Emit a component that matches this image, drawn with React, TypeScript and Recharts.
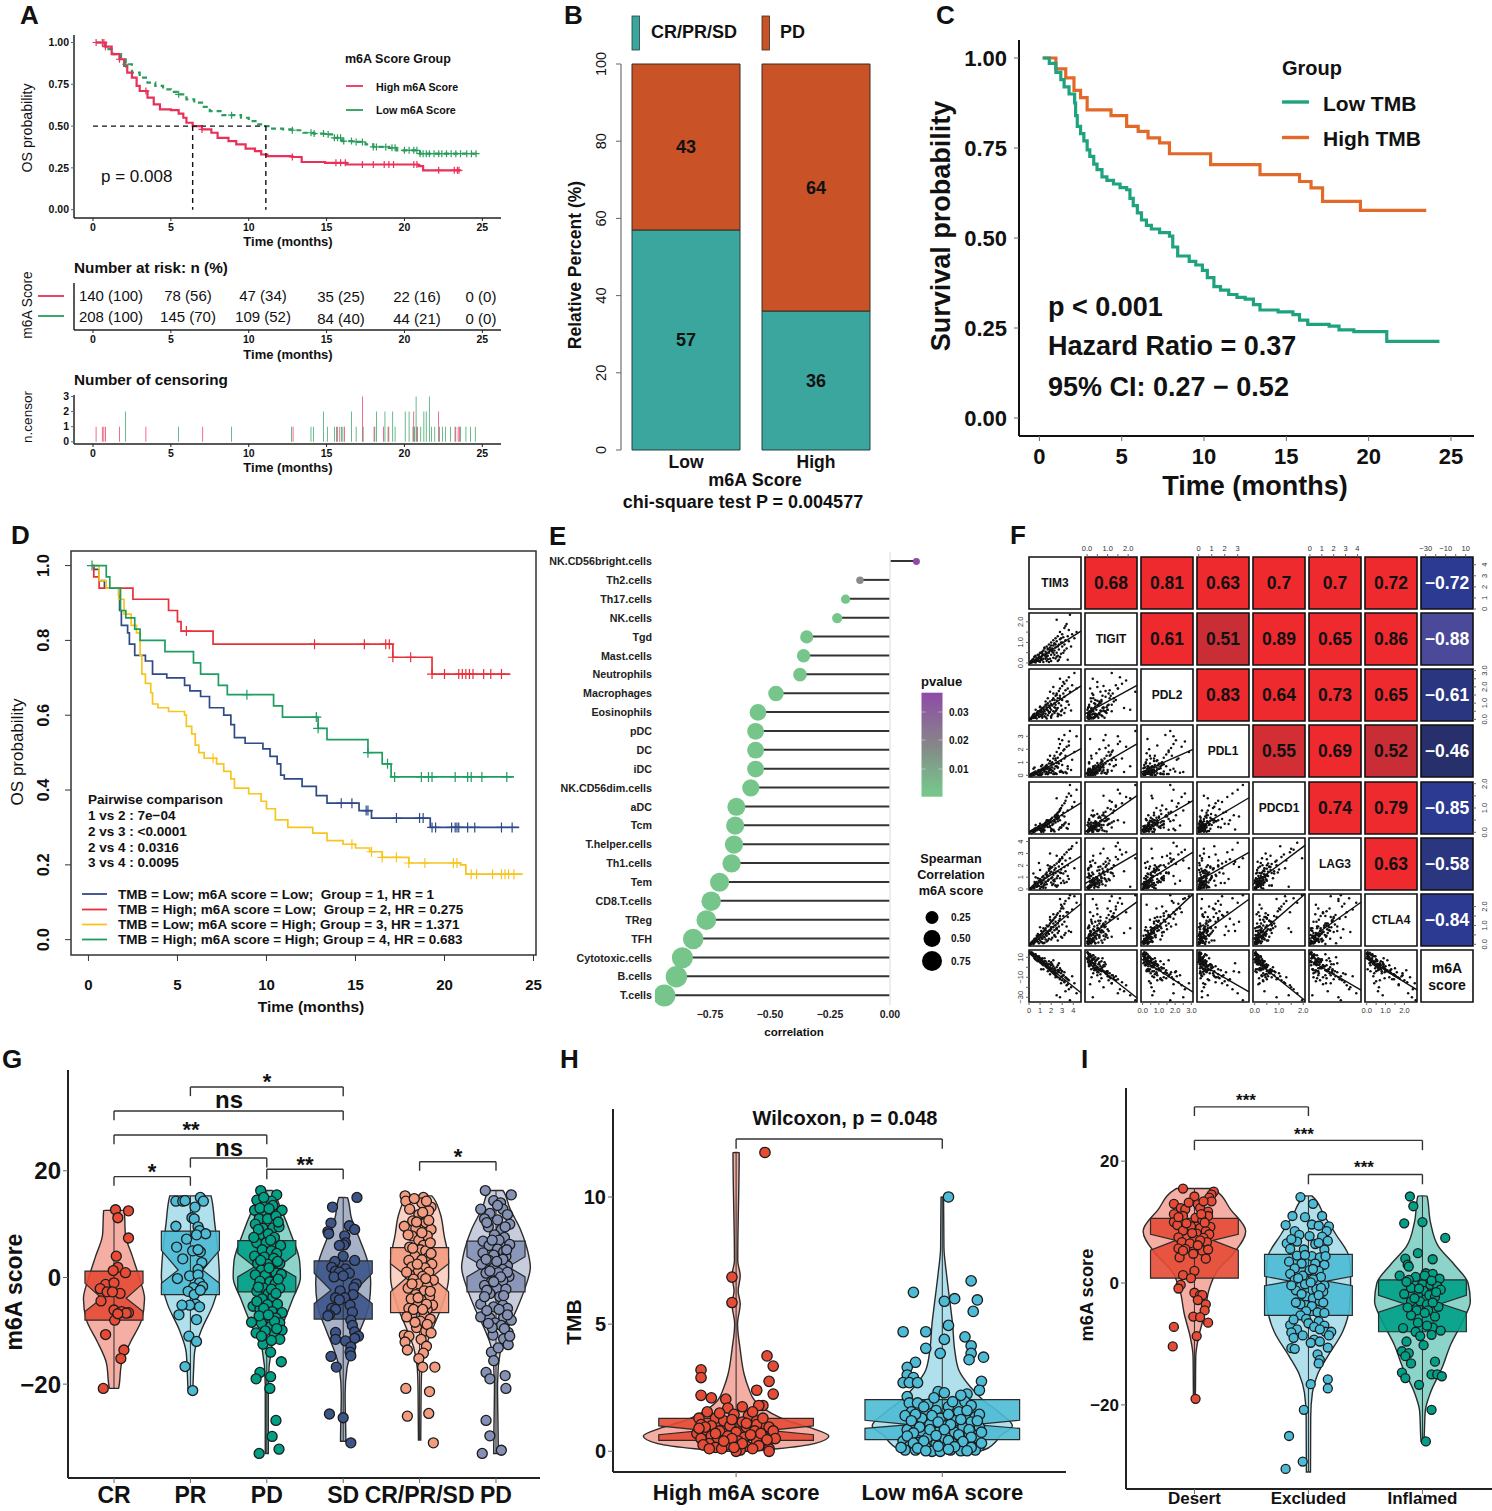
import React from "react";
import {
  Area,
  Bar,
  Cell,
  ComposedChart,
  LabelList,
  Line,
  ReferenceArea,
  ReferenceLine,
  Scatter,
  ScatterChart,
  XAxis,
  YAxis,
  ZAxis,
} from "recharts";

const FONT = "'Liberation Sans', Arial, sans-serif";
const NPG = ["#E64B35", "#4DBBD5", "#00A087", "#3C5488", "#F39B7F", "#8491B4"];

// ---- panel A ----
const aTimes = [0, 5, 10, 15, 20, 25];
const aHighCurve = [[0.2,1],[0.8,0.975],[1.2,0.93],[1.7,0.9],[2,0.86],[2.2,0.82],[2.5,0.79],[2.8,0.74],[3,0.71],[3.5,0.67],[3.9,0.63],[4.3,0.6],[5,0.595],[5.5,0.575],[5.8,0.55],[6,0.52],[6.4,0.5],[7,0.48],[7.6,0.46],[8,0.43],[8.7,0.41],[9.2,0.39],[9.8,0.365],[10.4,0.35],[10.8,0.33],[11.2,0.32],[12.8,0.315],[13.4,0.285],[14.9,0.28],[16.3,0.27],[20.9,0.26],[21.2,0.235],[23.6,0.235]];
const aLowCurve = [[0.2,1],[0.8,0.96],[1.3,0.93],[1.8,0.9],[2.1,0.87],[2.5,0.82],[3,0.79],[3.5,0.76],[4,0.74],[4.5,0.72],[5,0.705],[5.5,0.69],[6,0.66],[6.5,0.64],[7,0.615],[7.5,0.59],[8.3,0.565],[9.5,0.55],[10,0.53],[10.6,0.51],[11,0.5],[11.5,0.485],[12.2,0.48],[12.8,0.475],[13.5,0.46],[14.2,0.455],[15,0.45],[15.5,0.43],[16,0.41],[16.8,0.405],[17.5,0.39],[18,0.375],[19,0.37],[19.5,0.355],[20.5,0.355],[21,0.335],[24.6,0.335]];
const aHighCensor = [0.2,0.6,0.7,0.8,1.7,3.4,7,12.8,15.6,15.9,16.2,17.3,18,18.7,19,19.3,20.6,20.8,22.2,23.2,23.4,23.5];
const aLowCensor = [2.1,5.5,8.9,12.8,14,14.2,14.8,15.1,15.5,15.7,15.9,16.1,16.6,16.9,17.3,18,18.2,18.8,19.2,19.4,20,20.3,20.6,20.8,21,21.2,21.4,21.6,21.9,22.2,22.4,22.7,23,23.3,23.6,24,24.3,24.6];
const riskHigh = ["140 (100)", "78 (56)", "47 (34)", "35 (25)", "22 (16)", "0 (0)"];
const riskLow = ["208 (100)", "145 (70)", "109 (52)", "84 (40)", "44 (21)", "0 (0)"];
const nCensorHigh = [[0.2,1],[0.6,1],[0.7,1],[0.8,1],[1.7,1],[3.4,1],[7.05,1],[12.85,1],[15.65,1],[15.85,1],[16.15,1],[17.3,3],[18.05,1],[18.65,1],[19,1],[20.6,2],[20.8,1],[22.2,2],[23.25,1],[23.45,1],[23.55,1]];
const nCensorLow = [[2.1,2],[5.5,1],[8.9,1],[12.75,1],[14,1],[14.15,1],[14.8,2],[15.05,1],[15.5,1],[15.7,1],[15.95,1],[16.05,1],[16.6,2],[16.9,1],[17.35,1],[18.1,1],[18.2,2],[18.75,2],[18.95,1],[19.25,2],[19.4,1],[20.05,2],[20.3,2],[20.55,1],[20.65,1],[20.75,3],[20.85,1],[21.05,1],[21.25,2],[21.4,2],[21.6,3],[21.75,1],[21.95,1],[22.25,1],[22.45,1],[22.65,1],[22.95,1],[23.3,1],[23.6,1],[23.95,1],[24.25,1],[24.55,1]];

// ---- panel B ----
const bGroups = ["Low", "High"];
const bResponders = [57, 36];
const bProgressors = [43, 64];

// ---- panel C ----
const cLowCurve = [[0.2,1],[0.6,0.985],[1,0.96],[1.3,0.94],[1.5,0.92],[1.8,0.9],[2.14,0.875],[2.2,0.84],[2.3,0.81],[2.5,0.79],[2.7,0.77],[2.9,0.745],[3.06,0.727],[3.3,0.705],[3.5,0.69],[3.8,0.67],[4.1,0.66],[4.5,0.65],[4.9,0.64],[5.3,0.634],[5.5,0.61],[5.7,0.59],[5.95,0.57],[6.2,0.55],[6.5,0.535],[6.8,0.525],[7.3,0.515],[7.9,0.505],[8.1,0.475],[8.4,0.45],[9.1,0.435],[9.5,0.425],[9.9,0.41],[10.2,0.39],[10.6,0.365],[11,0.355],[11.5,0.343],[12,0.335],[12.5,0.33],[13,0.315],[13.4,0.3],[14.5,0.295],[15.4,0.287],[15.8,0.272],[16.3,0.26],[17.6,0.255],[18.2,0.245],[19.1,0.24],[21,0.24],[21.1,0.213],[24.3,0.213]];
const cHighCurve = [[0.2,1],[1,0.97],[1.6,0.945],[2.1,0.91],[2.5,0.89],[2.9,0.856],[4.35,0.84],[5.3,0.81],[6,0.796],[6.6,0.778],[7.3,0.764],[7.9,0.734],[10.4,0.704],[12.8,0.704],[13.4,0.676],[15.8,0.657],[16.5,0.639],[17.2,0.602],[19.5,0.577],[23.5,0.577]];

// ---- panel D ----
const dBlueCurve = [[0.2,1],[0.3,0.99],[0.6,0.96],[0.9,0.94],[1.7,0.92],[1.75,0.88],[1.85,0.84],[2.2,0.82],[2.3,0.79],[2.6,0.76],[3.2,0.745],[3.6,0.71],[4.4,0.7],[5.4,0.68],[5.7,0.665],[6.3,0.65],[6.8,0.62],[7.6,0.6],[8,0.575],[8.2,0.54],[8.8,0.525],[9.8,0.51],[10.2,0.49],[10.6,0.47],[10.8,0.44],[11,0.43],[12,0.41],[12.8,0.385],[13.4,0.365],[15.2,0.345],[15.9,0.325],[19.2,0.3],[24.2,0.3]];
const dRedCurve = [[0.2,1],[0.3,0.97],[0.6,0.94],[2.5,0.91],[4.5,0.88],[5,0.85],[5.2,0.825],[7,0.79],[17.1,0.755],[19.3,0.71],[23.7,0.71]];
const dYellowCurve = [[0.2,1],[0.6,0.96],[1,0.94],[1.7,0.91],[2,0.87],[2.4,0.84],[2.7,0.82],[2.9,0.76],[3,0.71],[3.2,0.685],[3.5,0.66],[3.6,0.63],[3.9,0.62],[4.5,0.61],[5.4,0.6],[5.5,0.57],[5.8,0.55],[6,0.52],[6.2,0.5],[6.5,0.485],[7.2,0.47],[7.6,0.45],[8,0.43],[8.2,0.405],[9,0.39],[9.7,0.37],[10,0.35],[10.5,0.32],[11.2,0.3],[12.6,0.285],[13.4,0.265],[14.3,0.255],[15,0.245],[15.8,0.235],[16.5,0.22],[18,0.205],[20.9,0.2],[21.2,0.175],[24.4,0.175]];
const dGreenCurve = [[0.2,1],[1,0.97],[1.2,0.94],[1.8,0.88],[2.1,0.86],[2.6,0.83],[2.9,0.8],[4.3,0.77],[5.9,0.74],[6.3,0.71],[7.3,0.68],[7.8,0.655],[10.4,0.625],[10.9,0.595],[12.9,0.565],[13.4,0.535],[15.7,0.5],[16.5,0.47],[17,0.435],[23.9,0.435]];
const dBlueCensor = [14.2,14.8,15.6,15.7,17.3,18.6,18.8,19.3,19.5,20.4,20.6,20.7,20.8,21.3,21.7,23.2,23.8];
const dRedCensor = [5.5,12.7,15.5,16.7,16.9,17.1,18.1,19.3,20,20.8,21,21.2,21.4,21.6,22.2,22.6,23.2];
const dYellowCensor = [7,14.8,15.9,16.5,17.3,18,18.9,20.5,20.7,21.5,21.8,22.7,23.2,23.4,23.6,23.9];
const dGreenCensor = [0.2,8.9,12.8,12.9,15.7,16.8,17.2,18.7,19.1,19.3,20.6,21.3,21.5,22.1,23.5];

// ---- panel E ----
const eCells = ["NK.CD56bright.cells","Th2.cells","Th17.cells","NK.cells","Tgd","Mast.cells","Neutrophils","Macrophages","Eosinophils","pDC","DC","iDC","NK.CD56dim.cells","aDC","Tcm","T.helper.cells","Th1.cells","Tem","CD8.T.cells","TReg","TFH","Cytotoxic.cells","B.cells","T.cells"];
const eCorr = [0.11,-0.125,-0.185,-0.22,-0.347,-0.36,-0.375,-0.475,-0.55,-0.56,-0.56,-0.56,-0.58,-0.64,-0.645,-0.65,-0.66,-0.71,-0.745,-0.765,-0.82,-0.865,-0.89,-0.94];
const ePvalue = [0.037,0.02,0.002,0.002,0.001,0.001,0.001,0.001,0.001,0.001,0.001,0.001,0.001,0.001,0.001,0.001,0.001,0.001,0.001,0.001,0.001,0.001,0.001,0.001];

// ---- panel F ----
const fNames = ["TIM3", "TIGIT", "PDL2", "PDL1", "PDCD1", "LAG3", "CTLA4", "m6A score"];
const fDomains = [[0,4.7],[-0.1,2.43],[-0.1,3.1],[-0.13,3.87],[-0.07,2.07],[-0.08,4.3],[-0.09,2.67],[-34.7,17.3]];
const fTicks = [[0,1,2,3,4],[0,0.5,1,1.5,2],[0,0.5,1,1.5,2,2.5,3],[0,1,2,3],[0,0.5,1,1.5,2],[0,1,2,3,4],[0,0.5,1,1.5,2],[-30,-20,-10,0,10]];
const fLabels = [["0","1","2","3","4"],["0.0","","1.0","","2.0"],["0.0","","1.0","","2.0","","3.0"],["0","1","2","3"],["0.0","","1.0","","2.0"],["0","1","2","3","4"],["0.0","","1.0","","2.0"],["−30","","−10","","10"]];
const tim3 = [0.1,0.2,0.2,0.3,0.3,0.4,0.4,0.5,0.5,0.5,0.6,0.6,0.7,0.7,0.8,0.8,0.9,0.9,1,1,1.1,1.1,1.2,1.2,1.3,1.3,1.4,1.4,1.5,1.5,1.6,1.6,1.7,1.7,1.8,1.8,1.9,1.9,2,2,2.1,2.1,2.2,2.2,2.3,2.3,2.4,2.4,2.5,2.5,2.6,2.6,2.7,2.7,2.8,2.8,2.9,3,3,3.1,3.2,3.2,3.3,3.4,3.5,3.6,3.7,3.9,4.1,4.3,0.6,1.1,1.5,2,2.4,2.8,3.2,0.9,1.3,1.7,2.2,2.6,3,3.5,0.5,1,1.4,1.9,2.3,2.7,3.1,3.8,0.8,1.2,1.6,2.1,2.5,2.9,3.3,0.4,0.7,1.1,1.5,1.8,2.2,2.6,3.4,1.3,1.7,2,2.4,2.9,1,1.6,2.3,2.8,3.6,1.2,1.9,2.5];
const tigit = [0.05,0.02,0.1,0.15,0.03,0.2,0.08,0.12,0.3,0.05,0.15,0.35,0.1,0.25,0.18,0.4,0.3,0.08,0.22,0.5,0.3,0.15,0.45,0.35,0.6,0.2,0.4,0.7,0.3,0.55,0.45,0.8,0.35,0.65,0.5,0.9,0.6,0.75,0.4,1,0.7,0.55,0.85,1.1,0.6,0.95,0.75,1.2,0.5,1.05,0.8,1.3,0.9,0.65,1.15,1.5,1,0.8,1.4,1.25,1.7,0.9,1.1,1.9,1.3,1.6,2.35,1.4,1.2,1.5,0.02,0.5,0.2,0.1,0.9,0.3,0.6,0.4,0.05,0.7,0.25,0.35,1,0.15,0.3,0.1,0.75,0.2,0.4,0.15,0.5,0.8,0.12,0.55,0.1,0.6,0.3,0.45,1.8,0.08,0.2,0.25,0.35,0.05,0.5,0.1,0.7,0.4,0.18,0.85,0.22,1.2,0.06,0.3,0.95,0.28,1.05,0.16,0.65,2.1];
const pdl2 = [0.05,0.1,0.02,0.15,0.2,0.08,0.25,0.3,0.12,0.35,0.2,0.1,0.4,0.3,0.45,0.25,0.5,0.35,0.55,0.2,0.6,0.45,0.3,0.7,0.4,0.65,0.8,0.5,0.35,0.9,0.6,0.75,1,0.55,0.85,0.45,1.1,0.7,0.95,0.6,1.2,0.85,0.5,1.3,1,0.75,1.45,0.9,1.15,1.6,0.7,1.3,1.75,1,1.45,1.9,0.85,2.05,1.2,1.6,2.2,1.4,1.8,2.4,1.1,2.6,1.7,2.1,2.85,1.9,0.6,0.3,1.1,0.2,0.5,1.3,0.4,0.15,0.7,0.25,1.6,0.35,0.6,1.9,0.1,0.8,0.2,0.45,1.2,0.3,2.3,0.55,0.5,0.1,0.9,0.3,1.5,0.25,0.7,0.3,0.05,0.6,0.15,0.4,2,0.2,1.1,0.35,1.3,0.1,0.7,0.5,0.75,0.05,0.4,2.5,0.9,0.2,1.7,0.6];
const pdl1 = [0.02,0.05,0.1,0.03,0.15,0.08,0.2,0.12,0.05,0.25,0.15,0.3,0.1,0.2,0.35,0.25,0.05,0.4,0.3,0.15,0.45,0.35,0.5,0.2,0.55,0.4,0.3,0.6,0.7,0.45,0.25,0.8,0.5,0.65,0.35,0.9,0.55,1.1,0.75,0.4,1,0.6,1.3,0.85,0.5,1.5,0.7,1.15,0.95,1.8,0.6,1.35,2.1,0.9,1.6,2.4,1.1,2.7,0.8,1.9,1.3,3.1,1.5,2.2,0.7,2.6,3.4,1.2,1.8,3,0.2,0.7,0.1,0.9,0.15,0.3,2,0.05,0.4,1.2,0.1,0.6,0.25,0.5,0.6,0.02,0.3,1.5,0.1,2.8,0.2,0.4,0.05,0.8,0.15,0.35,0.1,1.7,0.25,0.5,0.1,0.03,0.6,0.2,0.3,1,0.15,0.45,0.08,0.2,1.3,0.35,0.03,0.55,0.12,0.25,2.3,0.1,0.4,0.7];
const pdcd1 = [0.02,0.04,0.05,0.08,0.03,0.1,0.07,0.12,0.15,0.05,0.1,0.18,0.14,0.08,0.2,0.22,0.12,0.25,0.18,0.1,0.28,0.2,0.3,0.15,0.32,0.25,0.35,0.2,0.38,0.28,0.42,0.3,0.22,0.45,0.35,0.48,0.26,0.5,0.4,0.55,0.3,0.6,0.45,0.35,0.65,0.5,0.7,0.4,0.75,0.55,0.8,0.45,0.85,0.6,0.95,0.5,1,0.7,1.1,0.8,1.2,0.65,1.3,1.45,0.9,1.6,1.95,1.05,1.25,1.75,0.3,0.05,0.4,0.15,0.6,0.2,0.35,0.25,0.02,0.5,0.1,0.7,0.3,0.15,0.02,0.35,0.08,0.22,0.45,0.12,0.28,1.5,0.18,0.05,0.5,0.1,0.65,0.2,0.4,0.06,0.15,0.02,0.27,0.4,0.08,0.55,0.18,0.12,0.32,0.05,0.7,0.2,0.1,0.25,0.03,0.9,0.34,0.16,0.45,1.4];
const lag3 = [0.05,0.1,0.02,0.2,0.15,0.3,0.08,0.25,0.4,0.12,0.35,0.5,0.2,0.6,0.3,0.45,0.7,0.25,0.55,0.85,0.4,0.65,1,0.5,0.75,1.1,0.35,0.9,1.25,0.6,1,1.4,0.7,1.15,1.55,0.8,1.3,1.7,0.55,1.45,1,1.85,1.2,0.75,1.6,2,1.35,1.75,0.9,2.15,1.5,1.1,2.3,1.9,1.4,2.5,1.65,2.1,2.7,1.3,2.9,1.85,2.4,3.1,2,3.3,2.6,3.6,1.75,3.9,1,0.2,0.6,1.8,0.3,0.9,0.5,2.2,0.1,0.7,1.4,0.3,2.6,1.1,0.6,0.05,0.4,1.9,0.8,2.3,0.7,3.4,0.9,0.15,1.2,0.35,2.8,0.5,1.5,1.3,0.2,0.75,0.1,1.7,0.45,1.1,0.6,0.25,2,0.9,0.3,1.35,1.6,0.4,0.65,2.4,0.85,0.55,3,0.2];
const ctla4 = [0.02,0.05,0.1,0.08,0.15,0.04,0.2,0.12,0.25,0.1,0.3,0.18,0.35,0.22,0.14,0.4,0.28,0.45,0.2,0.5,0.35,0.55,0.3,0.6,0.42,0.68,0.38,0.75,0.5,0.85,0.58,0.45,0.95,0.65,1,0.55,1.1,0.72,1.2,0.8,0.62,1.25,0.9,1.3,0.75,1.4,1,1.45,0.85,1.55,1.1,1.65,0.95,1.25,1.75,1.35,1.9,1.05,2,1.5,2.15,1.2,2.3,1.7,1.45,2.45,2.6,1.85,2.55,2.2,0.15,0.7,0.25,0.9,0.4,1.5,0.5,0.05,0.85,0.2,1.1,0.6,0.35,1.7,0.3,0.5,0.08,1.3,0.45,0.7,1.9,0.65,0.55,0.1,1,0.35,0.8,2.1,0.6,0.02,0.45,0.12,0.75,0.3,1.6,0.2,0.95,0.05,0.65,0.25,1.2,0.4,0.9,0.15,0.5,2.4,0.7,0.3,1.45,0.85];
const m6aScore = [14,15,13,12,14.5,11,13.5,10,12,9,13,8,11,7,10,6,9,11,5,8,4,6,7,3,5,2,4,6,1,3,0,2,-1,1,-2,3,-3,0,2,-4,-1,-5,1,-6,-2,-7,-3,-8,0,-9,-4,-10,-5,-3,-11,-12,-6,-4,-13,-8,-15,-5,-10,-18,-12,-22,-33,-9,-16,-26,8,-2,6,3,-6,-1,-14,10,5,-4,7,-3,-9,-17,12,6,9,-2,-1,4,-8,-20,7,9,1,3,-6,-3,-24,13,11,8,2,6,-5,2,-11,-2,3,5,-10,-16,9,4,-4,-30,-13,6,-7,-28];
const fSamples = [tim3, tigit, pdl2, pdl1, pdcd1, lag3, ctla4, m6aScore];
const fCorr = [
  [0.68,0.81,0.63,0.7,0.7,0.72,-0.72],
  [0.61,0.51,0.89,0.65,0.86,-0.88],
  [0.83,0.64,0.73,0.65,-0.61],
  [0.55,0.69,0.52,-0.46],
  [0.74,0.79,-0.85],
  [0.63,-0.58],
  [-0.84],
];

// ---- panel G: violin outline (score, half width), box and jittered points ----
const gLabels = ["CR", "PR", "PD", "SD", "CR/PR/SD", "PD"];
const gCrY = [12.6,8,4,0,-4,-8,-12,-16,-20.8];
const gCrW = [0.135,0.15,0.24,0.33,0.4,0.36,0.22,0.1,0.06];
const gPrY = [15.3,10,5,0,-5,-10,-14,-18,-21];
const gPrW = [0.27,0.32,0.36,0.38,0.3,0.14,0.055,0.04,0.03];
const gPdY = [16.3,13,8,3,0,-4,-9,-13,-20,-33];
const gPdW = [0.07,0.18,0.32,0.43,0.44,0.34,0.2,0.065,0.02,0.02];
const gSdY = [15,11,7,3,-1,-5,-10,-14,-17,-22,-30.7];
const gSdW = [0.055,0.11,0.22,0.32,0.36,0.34,0.22,0.11,0.05,0.025,0.035];
const gMixY = [15.3,12,8,3,0,-5,-10,-13,-17,-21,-30.5];
const gMixW = [0.16,0.27,0.32,0.38,0.38,0.3,0.16,0.08,0.03,0.02,0.015];
const gPd2Y = [16.3,13,9,4,2,-2,-6,-10,-13,-20,-33];
const gPd2W = [0.09,0.18,0.32,0.43,0.45,0.38,0.27,0.14,0.065,0.02,0.03];
const gCrBox = [1.2,-1.1,-3.9,-6.4,-8];
const gPrBox = [8.7,5.1,1.4,-1.1,-3.2];
const gPdBox = [6.9,4.5,2,0.1,-2.7];
const gSdBox = [3.1,0.8,-2.4,-4.9,-7.8];
const gMixBox = [5.6,2.6,0.1,-2.7,-6.6];
const gPd2Box = [6.8,3.9,2,0.1,-2.7];
const gCrPts = [[0.02,12.7],[0.19,12.5],[0.05,11.2],[0.19,7.4],[0.03,4],[0.05,1.9],[-0.01,1.3],[0.15,0.9],[-0.11,-1.3],[0,-1],[-0.18,-2.1],[0.08,-3],[-0.17,-4.4],[0,-6.1],[0.19,-6.6],[0.1,-6.4],[0.01,-8],[-0.11,-10.7],[0.13,-13.6],[0.09,-15.2],[-0.14,-20.8],[-0.09,-2.7],[-0.02,-2.7],[0.16,-6.7],[0.05,-6.8]];
const gPrPts = [[-0.19,14.3],[-0.1,14.3],[-0.07,14.4],[0.13,15],[0.17,14.3],[0.06,13.2],[0.02,11.2],[0.05,11],[-0.19,9.6],[0.1,9.5],[0.12,8.8],[0.2,8.2],[-0.05,7.2],[0.08,8],[-0.18,5.7],[0.03,5],[0.13,4.8],[0.1,5.2],[-0.1,3.5],[0.15,2.8],[0.1,1.5],[-0.01,0.3],[-0.17,-0.2],[0.1,0.5],[0.12,-1],[0.04,-1.9],[-0.03,-2.6],[0.05,-3.2],[0.07,-5],[-0.01,-5.2],[-0.11,-5.2],[0.12,-5.5],[-0.15,-7],[0.08,-7.9],[-0.02,-11],[0.08,-12],[-0.07,-16.7],[0.03,-21.2],[0.16,-1.7],[0.13,-2.4]];
const gPdPts = [[-0.08,16.3],[0.13,15.5],[-0.13,14.5],[-0.02,14],[0.06,14.3],[-0.16,12.6],[-0.03,12.3],[0.1,12.7],[0.2,12.6],[-0.1,11],[0.01,11],[0.12,11.5],[-0.15,10],[-0.05,9.2],[0.08,9.3],[0.16,9.5],[-0.09,8],[0.02,8.2],[0.1,7.5],[-0.13,6.5],[-0.01,6.5],[0.18,6],[-0.06,5.2],[0.06,5],[0.13,4.5],[-0.16,4],[-0.03,3.8],[0.09,3.6],[-0.12,2.6],[0.01,2.5],[0.17,2.6],[-0.07,1.4],[0.06,1.2],[0.12,0.8],[-0.15,0.5],[-0.02,0.4],[0.19,0.6],[-0.09,-0.7],[0.04,-0.8],[0.11,-1.2],[-0.04,-2],[0.17,-2],[-0.13,-2.6],[0.02,-3],[0.08,-3.6],[-0.06,-4],[-0.18,-5.4],[0.01,-5.1],[0.14,-5],[-0.09,-6],[0.07,-6.4],[0.2,-6.6],[-0.03,-7.4],[0.12,-7.6],[-0.2,-8.4],[-0.07,-8.6],[0.17,-8.5],[0.05,-9.2],[-0.14,-10.4],[0.2,-9.9],[0.1,-10.6],[-0.05,-12.5],[0.17,-11.6],[0.05,-14],[0.19,-15.8],[-0.09,-17.8],[0.05,-18.6],[-0.14,-19],[0.04,-20.8],[0.12,-26.8],[0.07,-29.8],[-0.1,-33],[0.16,-32.2],[-0.04,15],[0.08,13.5],[-0.09,13],[0.03,12.9],[0.15,10.4],[-0.11,9],[0.05,7],[-0.17,7.5],[0.14,3],[-0.08,3.2],[0.03,1.8],[0.15,-0.3],[-0.11,-1.8],[0.06,-2.2],[0.12,-3],[-0.13,-4.5],[-0.04,-5.8],[0.1,-8.2],[-0.1,-7.2],[0.02,-7],[-0.02,-10],[0.13,-9.6],[-0.07,-11],[0.06,-11.8]];
const gSdPts = [[0.18,15],[-0.14,13.2],[-0.16,10.2],[-0.2,8.6],[-0.19,8.2],[0.08,9.7],[0.15,9],[0.02,7.8],[0.03,6.5],[0.01,6.1],[-0.05,6],[0,4],[0.15,3.2],[-0.11,3],[-0.15,1.9],[-0.1,1.2],[0.03,1.6],[0.08,0.8],[-0.05,1],[-0.12,0.1],[0,0.3],[0.17,-1.2],[0.14,-1.9],[-0.04,-2.5],[0.13,-3.2],[-0.1,-3.8],[0.02,-3.8],[-0.05,-4.2],[0.09,-5.2],[-0.15,-5.8],[-0.1,-6],[0.12,-6.5],[-0.18,-7],[-0.2,-7.2],[0.1,-8],[0.12,-9],[0.15,-10.2],[-0.1,-10.3],[0.2,-11],[0.15,-11.4],[-0.1,-11.6],[0.03,-11.9],[0.1,-13],[0.09,-14],[-0.16,-14.8],[0.1,-14.7],[-0.09,-16.8],[-0.18,-25.6],[0,-26.3],[0.1,-31]];
const gMixPts = [[-0.19,15.3],[0.05,15],[-0.18,14.3],[0.03,14],[0.15,13.2],[0.12,12.5],[-0.01,11.8],[-0.09,10.6],[0.08,10.3],[-0.2,9.6],[-0.05,9.2],[0.15,9],[-0.1,7.8],[0.1,7.8],[-0.01,7],[0.05,6],[-0.13,5.7],[0.01,5.2],[0.08,5],[-0.06,4],[0.1,3.6],[-0.14,3.2],[0.03,3.3],[0.16,2.5],[-0.1,2],[0.07,1.8],[-0.02,1],[0.12,1],[-0.13,0.5],[0.04,0.2],[-0.08,-0.3],[0.18,-0.5],[-0.01,-1.2],[0.1,-1.6],[-0.15,-2],[0.06,-2.5],[-0.05,-3.2],[0.13,-3.6],[-0.11,-4],[0.02,-4.2],[0.17,-5.2],[-0.02,-5.2],[-0.14,-5.8],[0.1,-6],[0.06,-7],[-0.1,-7],[0.14,-7.8],[0.01,-8.2],[-0.04,-9.4],[0.08,-10],[-0.2,-10.8],[-0.14,-11],[0.02,-11.6],[-0.19,-12.1],[0.09,-12.9],[-0.16,-13.6],[0.05,-14.2],[-0.01,-15.2],[0.2,-16.8],[0.04,-16.8],[-0.18,-20.8],[0.13,-21.4],[0.12,-25.5],[-0.16,-26],[0.18,-31],[-0.07,14.8],[0.09,14.3],[-0.13,12.8],[0.04,12.2],[-0.04,10.4],[0.12,10.7],[0.03,8.4],[-0.15,8],[0.14,6.5],[-0.09,5.5],[0.15,4.5],[-0.03,2.5],[-0.17,1],[0.08,-0.2],[-0.1,-1.2],[0.14,-2.6],[-0.02,-3.8],[0.09,-5],[-0.08,-6],[-0.17,-7.4],[0.04,-6],[-0.06,-8.4],[0.1,-8.8],[0.15,-10.4]];
const gPd2Pts = [[-0.14,16.3],[0.2,15.5],[-0.03,14.4],[0.06,14],[-0.2,12.8],[0.09,12.8],[-0.08,12],[0.15,11.8],[-0.15,11],[0.02,10.8],[0.18,10],[-0.1,9.5],[0.07,9],[-0.02,8],[0.11,7.5],[-0.17,6.8],[0.04,7],[0.18,6.2],[-0.09,6],[0.02,5.3],[0.1,4.8],[-0.17,4.6],[-0.03,4.2],[0.13,4],[-0.09,3.2],[0.05,2.8],[-0.19,2.5],[0.15,2.2],[-0.03,1.8],[0.09,1.5],[-0.13,0.8],[0.03,0.9],[0.17,0.2],[-0.06,-0.8],[0.09,-0.6],[-0.15,-1.5],[0.01,-2],[0.13,-2.2],[-0.08,-3],[0.05,-3.6],[-0.2,-5],[0.09,-5.2],[-0.03,-5.5],[0.15,-5.8],[-0.2,-7.4],[-0.08,-7.6],[0.1,-7.5],[0.2,-8],[-0.01,-8.5],[0.07,-9],[0.16,-10.3],[-0.04,-10.8],[0.1,-11.5],[-0.06,-14],[0.16,-12.6],[-0.03,-15.6],[-0.13,-17.8],[0.12,-18.4],[-0.08,-19],[0.13,-20.8],[-0.13,-26.8],[-0.08,-29.7],[-0.18,-33],[0.07,-32.4],[0.03,-13.2],[0.02,13.5],[-0.12,10.3],[0.12,9.5],[-0.05,7],[0.14,5.2],[-0.13,3.4],[0.09,3.4],[0.01,3],[-0.08,1.2],[0.15,1],[0.06,0.1],[-0.03,-0.8],[-0.12,-2.4],[0.1,-3.4],[-0.15,-3.6],[0.15,-7],[0.04,-6],[-0.12,-6.2],[-0.05,-9.4],[0.11,-9.6],[0.18,-11],[-0.1,-8.6]];
const gBrackets = [[1,2,18.9,17.2],[2,3,22.4,20.6],[3,4,20.3,18.4],[1,3,26.7,25],[1,4,31.2,29.5],[2,4,35.7,34],[5,6,21.7,20]];

// ---- panel H ----
const hLabels = ["High m6A score", "Low m6A score"];
const hHighY = [11.75,7.5,6.9,6.3,5.8,5,4,3,2.5,2,1.5,1.2,0.9,0.6,0.3,0.1,0];
const hHighW = [0.015,0.008,0.02,0.01,0.02,0.007,0.02,0.04,0.06,0.09,0.17,0.25,0.37,0.45,0.38,0.2,0.05];
const hLowY = [10,8,7,6,5,4,3.2,2.5,2,1.5,1,0.6,0.3,0.05];
const hLowW = [0.006,0.008,0.02,0.035,0.05,0.06,0.08,0.14,0.2,0.28,0.34,0.28,0.25,0.2];
const hHighBox = [1.29,1,0.82,0.65,0.43];
const hLowBox = [2.03,1.22,1.05,0.9,0.46];
const hHighPts = [[0.14,11.75],[-0.02,6.85],[-0.02,5.85],[0.15,3.75],[0.18,3.35],[-0.17,3.2],[-0.17,2.9],[0.16,2.75],[0.1,2.4],[-0.17,2.2],[-0.12,2.1],[0.18,2.25],[-0.05,2.05],[0.13,1.8],[0.11,1.8],[-0.04,1.7],[0.03,1.75],[0.06,1.4],[-0.01,1.45],[-0.1,1.3],[-0.18,1.3],[0.1,1.2],[0.1,1.05],[-0.06,1.2],[0.03,1.15],[-0.17,1.05],[-0.12,1],[-0.03,1],[0.05,0.95],[0.16,0.95],[-0.15,0.85],[-0.08,0.8],[0,0.75],[0.09,0.8],[0.18,0.8],[-0.19,0.7],[-0.12,0.6],[-0.04,0.6],[0.04,0.55],[0.13,0.6],[-0.17,0.5],[-0.09,0.45],[0.01,0.4],[0.1,0.4],[0.19,0.5],[-0.13,0.3],[-0.05,0.25],[0.05,0.2],[0.15,0.25],[-0.1,0.15],[0.02,0.05],[0.16,0.1],[0,0],[0.16,0],[-0.07,0.1],[-0.14,1.55],[0.08,1.55],[-0.08,1.5],[0.13,1.3],[-0.02,1.25],[0.05,1.1],[-0.15,0.95],[0.12,0.7],[-0.1,0.7],[-0.02,0.5],[0.07,0.65],[0.15,0.45],[-0.06,0.4],[0.03,0.3],[0.11,0.22],[-0.16,0.25],[-0.01,0.15],[0.08,0.1],[-0.13,0.1],[-0.18,0.9]];
const hLowPts = [[0.03,10],[0.14,6.7],[-0.14,6.25],[0.17,5.95],[0.06,6],[0.01,5.9],[0.15,5.5],[-0.19,4.7],[-0.08,4.7],[0.03,4.95],[0.11,4.5],[0.14,4.15],[0.01,4.4],[-0.08,4.05],[0.14,3.85],[-0.01,3.85],[0.2,3.7],[0.13,3.6],[-0.13,3.5],[-0.17,3.3],[-0.17,3],[-0.14,2.9],[-0.19,2.7],[-0.16,2.7],[-0.12,2.7],[0.19,2.75],[0.18,2.4],[-0.02,2.35],[0.01,2.3],[0.12,2.25],[-0.17,2.15],[-0.16,1.9],[0.11,1.95],[0.14,1.8],[-0.07,1.85],[0.03,1.75],[-0.03,1.6],[0.08,1.55],[-0.15,1.55],[-0.18,1.4],[0.16,1.35],[-0.1,1.3],[-0.01,1.3],[0.06,1.2],[0.14,1.15],[-0.14,1.05],[-0.06,1.05],[0.02,1],[0.1,0.95],[0.18,0.95],[-0.17,0.85],[-0.1,0.8],[-0.02,0.75],[0.06,0.75],[0.13,0.7],[-0.15,0.6],[-0.07,0.55],[0,0.5],[0.08,0.5],[0.17,0.5],[-0.19,0.4],[-0.11,0.35],[-0.03,0.3],[0.05,0.3],[0.13,0.3],[-0.16,0.2],[-0.08,0.15],[0.01,0.15],[0.09,0.15],[0.18,0.2],[-0.18,0.05],[-0.05,0],[0.09,0.02],[0.16,0.05],[-0.13,0.05],[-0.01,0],[0.04,0.05],[-0.12,1.9],[0.05,1.95],[-0.04,2.1],[0.09,2.2],[-0.09,1.75],[0.12,1.6],[-0.13,1.45],[0.03,1.45],[0.18,1.45],[-0.05,1.4],[0.09,1.25],[-0.15,1.2],[0.17,1.2],[-0.02,1.15],[0.04,1.05],[-0.11,0.95],[0.13,0.85],[-0.06,0.85],[0.01,0.85],[0.19,0.75],[-0.14,0.72],[0.08,0.65],[-0.03,0.62],[-0.17,0.6],[0.14,0.55],[0.03,0.42],[-0.09,0.4],[0.1,0.38],[-0.14,0.32],[0.19,0.32],[-0.02,0.2],[0.06,0.18],[0.14,0.15],[-0.12,0.12],[0.03,0.08],[-0.2,0.15],[0.12,0.02],[-0.08,0.02]];
const hBrackets = [[1,2,12.28,11.9]];

// ---- panel I ----
const iLabels = ["Desert", "Excluded", "Inflamed"];
const iDesertY = [15.5,12,8.5,5,2,-1,-5,-9,-12,-19];
const iDesertW = [0.16,0.32,0.45,0.35,0.2,0.13,0.09,0.035,0.012,0.008];
const iExclY = [14.3,11,8,4,0,-4,-8,-12,-15,-18,-22,-31];
const iExclW = [0.03,0.14,0.24,0.36,0.37,0.36,0.3,0.17,0.08,0.035,0.02,0.018];
const iInflY = [14.3,10,6,3,0,-3,-6,-10,-14,-18,-21,-26];
const iInflW = [0.04,0.07,0.14,0.28,0.4,0.42,0.36,0.25,0.17,0.07,0.025,0.012];
const iDesertBox = [10.6,8,7,5.4,0.8];
const iExclBox = [4.7,1.1,0.3,-0.45,-5.3];
const iInflBox = [0.5,-2,-3.4,-4.8,-8];
const iDesertPts = [[-0.1,15.5],[0.17,15],[0.15,14.5],[0.13,14],[0,14.2],[-0.18,13],[0.15,13.4],[0.03,12.9],[-0.12,12.3],[-0.08,12.1],[0.05,12.3],[0.12,11.7],[-0.18,11.3],[-0.1,11],[0.12,11],[0.01,10.7],[-0.18,10],[0.07,10.3],[-0.15,9.5],[-0.03,9.3],[0.05,9],[0.14,9.2],[-0.1,8.6],[0.1,8.5],[0.02,8.1],[0.13,8],[-0.14,7.5],[0,7.2],[0.08,7.4],[-0.11,6.7],[-0.04,6.5],[0.11,6.7],[-0.14,5.7],[-0.08,5.6],[0.07,5.3],[0.12,5.5],[-0.13,4.2],[0.1,4],[0,2],[-0.1,1.3],[-0.03,0.8],[-0.12,-0.3],[-0.14,-0.9],[0,-1.6],[0.05,-2],[0.07,-2],[0.03,-2.8],[0.1,-3.5],[0.09,-4.5],[-0.01,-5.5],[0.05,-5.6],[0.12,-6.5],[-0.18,-7.2],[0.02,-8.7],[-0.19,-10.4],[0.01,-19],[-0.05,13.2],[0.08,13.4],[-0.14,10.8],[0.06,11.3],[-0.07,9.8],[0.09,9.9],[-0.02,8.2],[0.05,7],[-0.1,5.3],[0.03,6.2],[-0.01,4.8]];
const iExclPts = [[-0.07,14.1],[0.04,13],[-0.14,11],[0.12,11],[-0.2,9.5],[0.03,9.6],[0.18,9.3],[-0.12,8.5],[0.16,8.5],[-0.08,7.9],[0.01,7.7],[0.12,7.6],[0.17,6.9],[-0.19,6.5],[-0.1,6.8],[0.06,6.4],[-0.16,5.6],[-0.04,5.5],[0.14,5.5],[-0.1,4.5],[0.03,4.4],[0.1,4.2],[-0.17,3.5],[-0.06,3.2],[0.06,3.2],[0.14,3],[-0.12,2.4],[0.01,2.1],[0.09,2],[-0.16,1.5],[-0.05,1.2],[0.11,1],[-0.12,0.5],[0.04,0.6],[-0.03,-0.2],[0.14,-0.4],[0.07,-1],[-0.11,-1.2],[0.13,-1.4],[-0.02,-2.2],[0.04,-2.5],[0.1,-3],[-0.07,-3.5],[0.03,-3.8],[-0.02,-4.6],[0.08,-4.8],[0.14,-4.9],[-0.07,-5.3],[-0.02,-5.9],[0.09,-6.3],[-0.16,-6.9],[0.14,-7],[-0.1,-7.6],[0.15,-8],[-0.15,-8.1],[0.2,-8],[-0.13,-9],[0.05,-9.3],[0.18,-8.6],[0.02,-9.8],[0.1,-9.6],[-0.15,-10.7],[-0.12,-10.8],[0.17,-10.6],[0.08,-11.7],[0.1,-12.6],[0.09,-13.2],[0.17,-15.8],[0.02,-16.6],[0.17,-17.3],[-0.04,-20.8],[-0.17,-25.1],[-0.05,-29.3],[-0.2,-30.5],[-0.03,10.8],[0.09,9.4],[-0.15,7.2],[0.09,6.6],[-0.03,4.6],[0.15,4.4],[0.04,2.3],[-0.09,0.8],[0.02,0.1],[-0.15,-0.4],[0.11,-0.8],[-0.06,-1.8],[0.09,-2],[-0.11,-3.2],[0.13,-3.2],[0,-6.6],[0.05,-7.2],[-0.13,-6],[0.1,-7.6],[-0.05,-8.6]];
const iInflPts = [[-0.11,14.2],[-0.08,12.6],[-0.16,9.8],[0,10],[0.2,7.4],[-0.04,4.9],[0.09,3.9],[-0.15,4],[-0.13,3],[-0.12,2.7],[0.03,1.6],[0.09,1.5],[-0.2,1.2],[-0.06,1],[0.04,0.6],[0.15,0.7],[-0.12,0.5],[0,-0.2],[0.07,-0.3],[0.13,-0.5],[-0.1,-0.8],[0.01,-1.3],[0.16,-1.1],[-0.16,-1.8],[-0.04,-2],[0.06,-2],[0.11,-2.3],[-0.02,-3],[-0.1,-3],[0.04,-3.5],[0.14,-3.9],[-0.05,-4.5],[0.05,-4.5],[-0.1,-5.3],[-0.17,-7.4],[0.09,-7.3],[0.16,-7.8],[-0.06,-8],[-0.02,-8.7],[0.08,-8.5],[-0.14,-9.6],[0.01,-10.2],[-0.18,-11.2],[-0.12,-11.5],[-0.15,-12],[0.11,-12.9],[-0.1,-13.2],[-0.18,-14.7],[0.08,-15],[0.13,-15],[0.17,-15.3],[-0.15,-15.6],[-0.03,-16.7],[0.08,-20.8],[0.03,-26],[0.02,1.2],[-0.14,0.2],[0.08,0.4],[-0.03,-0.9],[0.12,-1.5],[-0.07,-2.5],[0.09,-3.2],[0.02,-4.9],[-0.13,-4],[0.11,-5.5],[-0.04,-6.5],[0.04,-7]];
const iBrackets = [[1,2,28.9,27.4],[1,3,23.4,21.8],[2,3,17.8,16.2]];

// build the rows the library needs
const toCurve = (pairs: number[][]) => pairs.map(([t, s]) => ({ t, s }));
const survivalAt = (pairs: number[][], t: number) => {
  let s = pairs[0][1];
  for (const p of pairs) if (p[0] <= t) s = p[1];
  return s;
};
const toCensor = (pairs: number[][], times: number[]) => times.map((t) => ({ t, s: survivalAt(pairs, t) }));

const violinRows = (c: number, ys: number[], ws: number[]) => [
  { y: ys[0] + 0.001, band: [c, c] },
  ...ys.map((y, i) => ({ y, band: [c - ws[i], c + ws[i]] })),
  { y: ys[ys.length - 1] - 0.001, band: [c, c] },
];
const boxRows = (c: number, box: number[], w: number) => {
  const [q3, hi, med, lo, q1] = box;
  const waist = w * 0.42;
  return [
    { y: q3, band: [c, c] },
    { y: q3, band: [c - w, c + w] },
    { y: hi, band: [c - w, c + w] },
    { y: med, band: [c - waist, c + waist] },
    { y: lo, band: [c - w, c + w] },
    { y: q1, band: [c - w, c + w] },
    { y: q1, band: [c, c] },
  ];
};
const minusTick = (v: number) => String(v).replace("-", "−");

// every plot is placed by the pixel edges of its plotting area
const YW = 110;
const XH = 60;
const PAD = 24;
const Frame = ({ l, t, r, b, layout, data, children }: any) => (
  <div style={{ position: "absolute", left: l - YW, top: t - PAD }}>
    <ComposedChart
      width={r - l + YW + PAD}
      height={b - t + PAD + XH}
      layout={layout}
      data={data}
      margin={{ top: PAD, right: PAD, left: 0, bottom: 0 }}
    >
      {children}
    </ComposedChart>
  </div>
);

const tickFont = (fontSize: number, fill = "#111") => ({ fontSize, fontWeight: "bold", fill, fontFamily: FONT });

const RotTick = ({ x, y, payload, size, fmt, dx = 0, color = "#111", bold = true }: any) => (
  <text
    x={x + dx}
    y={y}
    transform={`rotate(-90 ${x + dx} ${y})`}
    textAnchor="middle"
    fontSize={size}
    fontWeight={bold ? "bold" : "normal"}
    fill={color}
    fontFamily={FONT}
  >
    {fmt ? fmt(payload.value) : payload.value}
  </text>
);

const plus = (size: number, color: string) => (p: any) => (
  <path d={`M${p.cx - size} ${p.cy}h${size * 2}M${p.cx} ${p.cy - size}v${size * 2}`} stroke={color} strokeWidth={1.2} fill="none" />
);

const curveLine = (pairs: number[][], color: string, width: number, dash?: string) => (
  <Line
    data={toCurve(pairs)}
    dataKey="s"
    type="stepAfter"
    stroke={color}
    strokeWidth={width}
    strokeDasharray={dash}
    dot={false}
    activeDot={false}
    isAnimationActive={false}
  />
);
const censorMarks = (pairs: number[][], times: number[], color: string, size: number) => (
  <Scatter data={toCensor(pairs, times)} dataKey="s" shape={plus(size, color)} isAnimationActive={false} />
);

const RED_A = "#E8305A";
const GREEN_A = "#2A9D5C";

const PanelA = () => {
  const axisX = { type: "number", dataKey: "t", domain: [-1.22, 26.2], ticks: aTimes, allowDataOverflow: true, height: XH, tick: tickFont(10.5), tickSize: 3, tickMargin: 3, axisLine: { stroke: "#222", strokeWidth: 1.5 }, tickLine: { stroke: "#222" } } as any;
  const censorRows = [
    ...nCensorLow.map(([t, n]) => ({ t, low: n })),
    ...nCensorHigh.map(([t, n]) => ({ t, high: n })),
  ].sort((a, b) => a.t - b.t);
  return (
    <>
      <Frame l={74} t={35} r={501} b={218}>
        <XAxis {...axisX} />
        <YAxis width={YW} type="number" domain={[-0.05, 1.045]} ticks={[0, 0.25, 0.5, 0.75, 1]} interval={0} tickFormatter={(v) => v.toFixed(2)} tick={tickFont(10.5)} tickSize={3} axisLine={{ stroke: "#222", strokeWidth: 1.5 }} />
        {curveLine(aLowCurve, GREEN_A, 2.2, "5 4")}
        {curveLine(aHighCurve, RED_A, 2.2)}
        {censorMarks(aLowCurve, aLowCensor, GREEN_A, 3.5)}
        {censorMarks(aHighCurve, aHighCensor, RED_A, 3.5)}
        <ReferenceLine segment={[{ x: 0, y: 0.5 }, { x: 11.1, y: 0.5 }]} stroke="#111" strokeWidth={1.4} strokeDasharray="5 4" />
        <ReferenceLine segment={[{ x: 6.4, y: 0.5 }, { x: 6.4, y: 0 }]} stroke="#111" strokeWidth={1.4} strokeDasharray="5 4" />
        <ReferenceLine segment={[{ x: 11.1, y: 0.5 }, { x: 11.1, y: 0 }]} stroke="#111" strokeWidth={1.4} strokeDasharray="5 4" />
      </Frame>
      <Frame l={74} t={283} r={501} b={330}>
        <XAxis {...axisX} />
        <YAxis width={YW} type="number" domain={[0, 2]} tick={false} tickLine={false} axisLine={{ stroke: "#222", strokeWidth: 1.5 }} />
        <Line data={aTimes.map((t) => ({ t, s: 1 }))} dataKey="s" stroke="none" dot={false} activeDot={false} isAnimationActive={false} />
      </Frame>
      <Frame l={74} t={395} r={501} b={444} data={censorRows}>
        <XAxis {...axisX} />
        <YAxis width={YW} type="number" domain={[-0.15, 3.1]} ticks={[0, 1, 2, 3]} interval={0} allowDataOverflow tick={tickFont(10.5)} tickSize={3} axisLine={{ stroke: "#222", strokeWidth: 1.5 }} />
        <Bar dataKey="low" stackId="n" fill={GREEN_A} barSize={2} isAnimationActive={false} />
        <Bar dataKey="high" stackId="n" fill={RED_A} barSize={2} isAnimationActive={false} />
      </Frame>
    </>
  );
};

const PanelB = () => {
  const rows = bGroups.map((name, i) => ({ name, low: bResponders[i], high: bProgressors[i] }));
  return (
    <Frame l={621} t={64} r={881} b={450} data={rows}>
      <XAxis dataKey="name" type="category" height={XH} tick={tickFont(17.5)} tickLine={false} axisLine={false} tickMargin={0} />
      <YAxis width={YW} type="number" domain={[0, 100]} ticks={[0, 20, 40, 60, 80, 100]} interval={0} tickSize={5} tickMargin={10} axisLine={{ stroke: "#555" }} tick={<RotTick size={14.5} bold={false} />} />
      <Bar dataKey="low" stackId="a" fill="#3AA69E" stroke="#24403E" barSize={108} isAnimationActive={false}>
        <LabelList dataKey="low" position="center" style={tickFont(18)} />
      </Bar>
      <Bar dataKey="high" stackId="a" fill="#C95327" stroke="#3A2A20" barSize={108} isAnimationActive={false}>
        <LabelList dataKey="high" position="center" style={tickFont(18)} />
      </Bar>
    </Frame>
  );
};

const PanelC = () => (
  <Frame l={1019} t={40} r={1474} b={436}>
    <XAxis type="number" dataKey="t" domain={[-1.24, 26.4]} ticks={aTimes} allowDataOverflow height={XH} tick={tickFont(22)} tickSize={5} tickMargin={7} axisLine={{ stroke: "#111", strokeWidth: 2 }} />
    <YAxis width={YW} type="number" domain={[-0.05, 1.05]} ticks={[0, 0.25, 0.5, 0.75, 1]} interval={0} tickFormatter={(v) => v.toFixed(2)} tick={tickFont(22)} tickSize={5} tickMargin={7} axisLine={{ stroke: "#111", strokeWidth: 2 }} />
    {curveLine(cHighCurve, "#E2692A", 3.2)}
    {curveLine(cLowCurve, "#1FA37F", 3.2)}
  </Frame>
);

const PanelD = () => (
  <Frame l={71} t={551} r={536} b={955}>
    <XAxis type="number" dataKey="t" domain={[-0.98, 25.14]} ticks={aTimes} allowDataOverflow height={XH} tick={tickFont(15)} tickSize={6} tickMargin={18} axisLine={false} tickLine={{ stroke: "#333" }} />
    <YAxis width={YW} type="number" domain={[-0.041, 1.039]} ticks={[0, 0.2, 0.4, 0.6, 0.8, 1]} interval={0} tickSize={6} tickMargin={16} axisLine={false} tickLine={{ stroke: "#333" }} tick={<RotTick size={16.5} fmt={(v: number) => v.toFixed(1)} />} />
    <ReferenceArea x1={-0.98} x2={25.14} y1={-0.041} y2={1.039} fill="none" stroke="#333" strokeWidth={1.5} />
    {curveLine(dBlueCurve, "#2E4A87", 1.7)}
    {curveLine(dRedCurve, "#E8303A", 1.7)}
    {curveLine(dYellowCurve, "#F7C520", 1.7)}
    {curveLine(dGreenCurve, "#1F9D60", 1.7)}
    {censorMarks(dBlueCurve, dBlueCensor, "#2E4A87", 5)}
    {censorMarks(dRedCurve, dRedCensor, "#E8303A", 5)}
    {censorMarks(dYellowCurve, dYellowCensor, "#F7C520", 5)}
    {censorMarks(dGreenCurve, dGreenCensor, "#1F9D60", 5)}
  </Frame>
);

const pColor = (p: number) => (p > 0.03 ? "#8E4BA8" : p > 0.01 ? "#8A8A8E" : "#76C68B");

const PanelE = () => {
  const rows = eCells.map((name, i) => ({ name, corr: eCorr[i], size: Math.abs(eCorr[i]) }));
  return (
    <Frame l={655} t={551.6} r={920} b={1004.6} layout="vertical" data={rows}>
      <XAxis type="number" domain={[-0.979, 0.125]} ticks={[-0.75, -0.5, -0.25, 0]} interval={0} allowDataOverflow height={XH} tickFormatter={(v) => v.toFixed(2).replace("-", "−")} tick={tickFont(10.5, "#222")} tickLine={false} axisLine={false} tickMargin={0} />
      <YAxis width={YW} type="category" dataKey="name" interval={0} tick={tickFont(10.7, "#222")} tickLine={false} tickSize={0} axisLine={false} tickMargin={3} />
      <ZAxis type="number" dataKey="size" domain={[0.11, 0.94]} range={[38, 380]} />
      <ReferenceLine x={0} stroke="#e6e6e6" strokeWidth={1.5} />
      <Bar dataKey="corr" fill="#333" barSize={2} isAnimationActive={false} />
      <Scatter dataKey="corr" isAnimationActive={false}>
        {rows.map((_, i) => (
          <Cell key={i} fill={pColor(ePvalue[i])} />
        ))}
      </Scatter>
    </Frame>
  );
};

const corrFill = (v: number) => {
  if (v < 0) return v < -0.86 ? "#4B4A9A" : v < -0.7 ? "#2C3A92" : v < -0.55 ? "#2A3680" : "#27306B";
  return v < 0.53 ? "#C92E36" : v < 0.6 ? "#D32E34" : "#EE2A2E";
};
const fit = (xs: number[], ys: number[], xd: number[], yd: number[]) => {
  const mx = xs.reduce((a, b) => a + b, 0) / xs.length;
  const my = ys.reduce((a, b) => a + b, 0) / ys.length;
  let sxy = 0;
  let sxx = 0;
  xs.forEach((x, i) => {
    sxy += (x - mx) * (ys[i] - my);
    sxx += (x - mx) * (x - mx);
  });
  const slope = sxy / sxx;
  const clip = (x: number) => {
    const y = my + slope * (x - mx);
    if (y > yd[1]) return { x: mx + (yd[1] - my) / slope, y: yd[1] };
    if (y < yd[0]) return { x: mx + (yd[0] - my) / slope, y: yd[0] };
    return { x, y };
  };
  return [clip(xd[0]), clip(xd[1])];
};

const F_CELL = 52;
const F_PAD = 24;
const fLeft = [1029, 1085, 1141.3, 1196.7, 1252.7, 1309, 1365, 1421.3];
const fTop = [557.3, 613.3, 669.3, 725.3, 781.7, 838, 894.3, 950];

const PairCell = ({ r, c }: { r: number; c: number }) => {
  const xd = fDomains[c];
  const yd = fDomains[r];
  const showTop = r === 0 && c % 2 === 1;
  const showBottom = r === 7 && c % 2 === 0;
  const showLeft = c === 0 && r % 2 === 1;
  const showRight = c === 7 && r % 2 === 0;
  const rows = fSamples[c].map((x, i) => ({ x, y: fSamples[r][i] }));
  const corr = c > r ? fCorr[r][c - r - 1] : null;
  const area = { x1: xd[0], x2: xd[1], y1: yd[0], y2: yd[1], stroke: "#111", strokeWidth: 1.6, fillOpacity: 1 };
  return (
    <div style={{ position: "absolute", left: fLeft[c] - F_PAD, top: fTop[r] - F_PAD }}>
      <ScatterChart
        width={F_CELL + 2 * F_PAD}
        height={F_CELL + 2 * F_PAD}
        margin={{ top: showTop ? 0 : F_PAD, bottom: showBottom ? 0 : F_PAD, left: showLeft ? 0 : F_PAD, right: showRight ? 0 : F_PAD }}
      >
        <XAxis
          type="number"
          dataKey="x"
          domain={xd}
          ticks={fTicks[c]}
          allowDataOverflow
          hide={!(showTop || showBottom)}
          orientation={showTop ? "top" : "bottom"}
          height={F_PAD}
          interval={0}
          tick={{ fontSize: 7.5, fill: "#333", fontFamily: FONT }}
          tickSize={3}
          tickMargin={3}
          axisLine={false}
          tickFormatter={(v) => fLabels[c][fTicks[c].indexOf(v)]}
        />
        <YAxis
          type="number"
          dataKey="y"
          domain={yd}
          ticks={fTicks[r]}
          allowDataOverflow
          hide={!(showLeft || showRight)}
          orientation={showRight ? "right" : "left"}
          width={F_PAD}
          interval={0}
          tickSize={3}
          tickMargin={3}
          axisLine={false}
          tick={<RotTick size={7.5} bold={false} color="#333" dx={showRight ? 8 : 0} fmt={(v: number) => fLabels[r][fTicks[r].indexOf(v)]} />}
        />
        {corr !== null ? (
          <ReferenceArea {...area} fill={corrFill(corr)} label={{ value: minusTick(corr), position: "center", fill: corr < 0 ? "#fff" : "#111", fontSize: 17.5, fontWeight: "bold", fontFamily: FONT }} />
        ) : r === c ? (
          <ReferenceArea {...area} fill="#fff" label={r < 7 ? { value: fNames[r], position: "center", fill: "#111", fontSize: 12, fontWeight: "bold", fontFamily: FONT } : undefined} />
        ) : (
          <ReferenceArea {...area} fill="#fff" />
        )}
        {c < r && <Scatter data={rows} isAnimationActive={false} shape={(p: any) => <circle cx={p.cx} cy={p.cy} r={1.25} fill="#111" />} />}
        {c < r && <ReferenceLine segment={fit(fSamples[c], fSamples[r], xd, yd)} stroke="#111" strokeWidth={1.4} />}
      </ScatterChart>
    </div>
  );
};

const PanelF = () => (
  <>
    {fNames.map((_, r) => fNames.map((__, c) => <PairCell key={`${r}-${c}`} r={r} c={c} />))}
  </>
);

// one violin panel: outline, notched box, centre line and points per group
const ViolinPanel = ({ l, t, r, b, xDomain, yDomain, labels, yTicks, groups, brackets, tickSize, yTickSize, tickGap, dot, boxW }: any) => (
  <Frame l={l} t={t} r={r} b={b} layout="vertical">
    <XAxis
      type="number"
      domain={xDomain}
      ticks={labels.map((_: string, i: number) => i + 1)}
      allowDataOverflow
      interval={0}
      height={XH}
      tickFormatter={(v) => labels[v - 1]}
      tick={tickFont(tickSize)}
      tickSize={5}
      tickMargin={tickGap}
      axisLine={{ stroke: "#222", strokeWidth: 2 }}
    />
    <YAxis
      width={YW}
      type="number"
      dataKey="y"
      reversed
      domain={yDomain}
      ticks={yTicks}
      allowDataOverflow
      interval={0}
      tickFormatter={minusTick}
      tick={tickFont(yTickSize)}
      tickSize={5}
      axisLine={{ stroke: "#222", strokeWidth: 2 }}
    />
    {groups.map((g: any, i: number) => (
      <Area key={`v${i}`} data={violinRows(i + 1, g.y, g.w)} dataKey="band" type="monotone" fill={g.color} fillOpacity={0.45} stroke="#2b2b2b" strokeWidth={1.4} dot={false} activeDot={false} isAnimationActive={false} />
    ))}
    {groups.map((g: any, i: number) => (
      <Area key={`b${i}`} data={boxRows(i + 1, g.box, boxW)} dataKey="band" type="linear" fill={g.color} fillOpacity={0.9} stroke="#2b2b2b" strokeWidth={1.2} dot={false} activeDot={false} isAnimationActive={false} />
    ))}
    {groups.map((g: any, i: number) => (
      <ReferenceLine key={`w${i}`} segment={[{ x: i + 1, y: g.y[0] }, { x: i + 1, y: g.y[g.y.length - 1] }]} stroke="#2b2b2b" strokeWidth={1} />
    ))}
    {groups.map((g: any, i: number) => (
      <Scatter
        key={`p${i}`}
        data={g.pts.map(([dx, y]: number[]) => ({ x: i + 1 + dx, y }))}
        dataKey="x"
        isAnimationActive={false}
        shape={(p: any) => <circle cx={p.cx} cy={p.cy} r={dot} fill={g.color} stroke="#1c1c1c" strokeWidth={1.3} />}
      />
    ))}
    {brackets.flatMap(([a, c, y, leg]: number[], i: number) => [
      <ReferenceLine key={`h${i}`} segment={[{ x: a, y }, { x: c, y }]} stroke="#333" strokeWidth={1.4} />,
      <ReferenceLine key={`l${i}`} segment={[{ x: a, y }, { x: a, y: leg }]} stroke="#333" strokeWidth={1.4} />,
      <ReferenceLine key={`m${i}`} segment={[{ x: c, y }, { x: c, y: leg }]} stroke="#333" strokeWidth={1.4} />,
    ])}
  </Frame>
);

const gGroups = [
  { color: NPG[0], y: gCrY, w: gCrW, box: gCrBox, pts: gCrPts },
  { color: NPG[1], y: gPrY, w: gPrW, box: gPrBox, pts: gPrPts },
  { color: NPG[2], y: gPdY, w: gPdW, box: gPdBox, pts: gPdPts },
  { color: NPG[3], y: gSdY, w: gSdW, box: gSdBox, pts: gSdPts },
  { color: NPG[4], y: gMixY, w: gMixW, box: gMixBox, pts: gMixPts },
  { color: NPG[5], y: gPd2Y, w: gPd2W, box: gPd2Box, pts: gPd2Pts },
];
const hGroups = [
  { color: NPG[0], y: hHighY, w: hHighW, box: hHighBox, pts: hHighPts },
  { color: NPG[1], y: hLowY, w: hLowW, box: hLowBox, pts: hLowPts },
];
const iGroups = [
  { color: NPG[0], y: iDesertY, w: iDesertW, box: iDesertBox, pts: iDesertPts },
  { color: NPG[1], y: iExclY, w: iExclW, box: iExclBox, pts: iExclPts },
  { color: NPG[2], y: iInflY, w: iInflW, box: iInflBox, pts: iInflPts },
];

// x, y (centre), text, size, bold, anchor, rotated
type Note = [number, number, string, number, boolean, string?, boolean?];
const notes: Note[] = [
  ["A", 20, 15], ["B", 564, 15], ["C", 936, 15], ["D", 11, 535], ["E", 549, 536], ["F", 1010, 535], ["G", 2, 1059], ["H", 560, 1059], ["I", 1081, 1059],
].map(([s, x, y]) => [x, y, s, 26, true] as Note);
notes.push(
  [27, 128, "OS probability", 14.2, false, "middle", true],
  [101, 176, "p = 0.008", 17, false],
  [345, 59, "m6A Score Group", 12.5, true],
  [376, 86.5, "High m6A Score", 10.7, true],
  [376, 110, "Low m6A Score", 10.7, true],
  [288, 241, "Time (months)", 13, true, "middle"],
  [74, 267, "Number at risk: n (%)", 15.3, true],
  [27, 305, "m6A Score", 13.8, false, "middle", true],
  [288, 354, "Time (months)", 13, true, "middle"],
  [74, 379, "Number of censoring", 15.3, true],
  [27, 417, "n.censor", 13.5, false, "middle", true],
  [288, 467, "Time (months)", 13, true, "middle"],
  [575, 265, "Relative Percent (%)", 17.5, true, "middle", true],
  [651, 32, "CR/PR/SD", 18, true],
  [780, 32, "PD", 18, true],
  [755, 480, "m6A Score", 18, true, "middle"],
  [743, 502, "chi-square test P = 0.004577", 18, true, "middle"],
  [941, 226, "Survival probability", 27, true, "middle", true],
  [1255, 486, "Time (months)", 27, true, "middle"],
  [1282, 68, "Group", 20, true],
  [1323, 103, "Low TMB", 21, true],
  [1323, 138, "High TMB", 21, true],
  [1048, 307, "p < 0.001", 27, true],
  [1048, 346, "Hazard Ratio = 0.37", 27, true],
  [1048, 387, "95% CI: 0.27 − 0.52", 27, true],
  [17, 752, "OS probability", 17, false, "middle", true],
  [311, 1006, "Time (months)", 15.5, true, "middle"],
  [88, 799, "Pairwise comparison", 13.5, true],
  [88, 815.5, "1 vs 2 : 7e−04", 13.5, true],
  [88, 831, "2 vs 3 : <0.0001", 13.5, true],
  [88, 847, "2 vs 4 : 0.0316", 13.5, true],
  [88, 862.5, "3 vs 4 : 0.0095", 13.5, true],
  [118, 894, "TMB = Low; m6A score = Low;  Group = 1, HR = 1", 13.5, true],
  [118, 909.5, "TMB = High; m6A score = Low;  Group = 2, HR = 0.275", 13.5, true],
  [118, 924.5, "TMB = Low; m6A score = High; Group = 3, HR = 1.371", 13.5, true],
  [118, 939.5, "TMB = High; m6A score = High; Group = 4, HR = 0.683", 13.5, true],
  [794, 1032, "correlation", 11.5, true, "middle"],
  [921, 681, "pvalue", 13, true],
  [951, 859, "Spearman", 12.7, true, "middle"],
  [951, 875, "Correlation", 12.7, true, "middle"],
  [951, 891, "m6A score", 12.7, true, "middle"],
  [951, 917, "0.25", 10, true],
  [951, 938, "0.50", 10, true],
  [951, 961, "0.75", 10, true],
  [949, 712, "0.03", 10, true],
  [949, 740, "0.02", 10, true],
  [949, 769, "0.01", 10, true],
  [1447, 968, "m6A", 14, true, "middle"],
  [1447, 985, "score", 14, true, "middle"],
  [14, 1292, "m6A score", 23, true, "middle", true],
  [152, 1171, "*", 22, true, "middle"],
  [229, 1147, "ns", 24, true, "middle"],
  [305, 1164, "**", 22, true, "middle"],
  [191, 1129, "**", 22, true, "middle"],
  [229, 1099, "ns", 24, true, "middle"],
  [267, 1081, "*", 22, true, "middle"],
  [458, 1156, "*", 22, true, "middle"],
  [573, 1322, "TMB", 21, true, "middle", true],
  [845, 1118, "Wilcoxon, p = 0.048", 20, true, "middle"],
  [1086, 1295, "m6A score", 18.3, true, "middle", true],
  [1246, 1100, "***", 17, true, "middle"],
  [1304, 1134, "***", 17, true, "middle"],
  [1364, 1167, "***", 17, true, "middle"],
);
const riskCenters = [111, 188, 263, 341, 417, 481];
riskHigh.forEach((s, i) => notes.push([riskCenters[i], i < 3 ? 295 : 296, s, 15, false, "middle"]));
riskLow.forEach((s, i) => notes.push([riskCenters[i], i < 3 ? 316 : 318, s, 15, false, "middle"]));

const Overlay = () => (
  <svg width={1492} height={1511} style={{ position: "absolute", left: 0, top: 0, pointerEvents: "none" }}>
    <defs>
      <linearGradient id="pgrad" x1="0" y1="0" x2="0" y2="1">
        <stop offset="0" stopColor="#8E4BA8" />
        <stop offset="0.5" stopColor="#868688" />
        <stop offset="0.95" stopColor="#76C68B" />
      </linearGradient>
    </defs>
    {/* legend keys */}
    <line x1={346} x2={363} y1={86} y2={86} stroke={RED_A} strokeWidth={1.8} />
    <line x1={346} x2={363} y1={110} y2={110} stroke={GREEN_A} strokeWidth={1.8} />
    <line x1={38} x2={64} y1={296} y2={296} stroke={RED_A} strokeWidth={1.8} />
    <line x1={38} x2={64} y1={316} y2={316} stroke={GREEN_A} strokeWidth={1.8} />
    <rect x={632} y={16} width={7.5} height={34} fill="#3AA69E" stroke="#24403E" strokeWidth={0.8} />
    <rect x={762} y={16} width={7.5} height={34} fill="#C95327" stroke="#3A2A20" strokeWidth={0.8} />
    <line x1={1282} x2={1309} y1={102} y2={102} stroke="#1FA37F" strokeWidth={3.4} />
    <line x1={1282} x2={1309} y1={137.5} y2={137.5} stroke="#E2692A" strokeWidth={3.4} />
    {["#2E4A87", "#E8303A", "#F7C520", "#1F9D60"].map((c, i) => (
      <line key={c} x1={82} x2={107} y1={[894, 909.5, 924.5, 939.5][i]} y2={[894, 909.5, 924.5, 939.5][i]} stroke={c} strokeWidth={1.8} />
    ))}
    <rect x={921.5} y={692.7} width={21} height={104} fill="url(#pgrad)" />
    {[712, 740, 769].map((y) => (
      <g key={y} stroke="#fff" strokeWidth={0.6} opacity={0.7}>
        <line x1={921.5} x2={925.5} y1={y} y2={y} />
        <line x1={938.5} x2={942.5} y1={y} y2={y} />
      </g>
    ))}
    <circle cx={932} cy={917.5} r={6.5} fill="#000" />
    <circle cx={932} cy={938.5} r={8.5} fill="#000" />
    <circle cx={932} cy={961} r={10} fill="#000" />
    {notes.map(([x, y, s, size, bold, anchor, rot], i) => (
      <text
        key={i}
        x={x}
        y={y}
        fontSize={size}
        fontWeight={bold ? "bold" : "normal"}
        fill="#111"
        fontFamily={FONT}
        textAnchor={anchor || "start"}
        dominantBaseline="central"
        transform={rot ? `rotate(-90 ${x} ${y})` : undefined}
        style={{ whiteSpace: "pre" }}
      >
        {s}
      </text>
    ))}
  </svg>
);

export default function App() {
  return (
    <div style={{ position: "absolute", left: 0, top: 0, width: 1492, height: 1511, background: "#fff", overflow: "hidden", fontFamily: FONT }}>
      <PanelA />
      <PanelB />
      <PanelC />
      <PanelD />
      <PanelE />
      <PanelF />
      <ViolinPanel l={68} t={1070} r={540} b={1478} xDomain={[0.398, 6.576]} yDomain={[-37.6, 38.9]} labels={gLabels} yTicks={[-20, 0, 20]} groups={gGroups} brackets={gBrackets} tickSize={23} yTickSize={24} tickGap={4} dot={5} boxW={0.38} />
      <ViolinPanel l={613} t={1109} r={1066} b={1472} xDomain={[0.403, 2.6]} yDomain={[-0.815, 13.46]} labels={hLabels} yTicks={[0, 5, 10]} groups={hGroups} brackets={hBrackets} tickSize={22} yTickSize={20} tickGap={7} dot={5.2} boxW={0.375} />
      <ViolinPanel l={1126} t={1088} r={1492} b={1489} xDomain={[0.4, 3.61]} yDomain={[-33.8, 32]} labels={iLabels} yTicks={[-20, 0, 20]} groups={iGroups} brackets={iBrackets} tickSize={17} yTickSize={17} tickGap={-2} dot={4.5} boxW={0.385} />
      <Overlay />
    </div>
  );
}
